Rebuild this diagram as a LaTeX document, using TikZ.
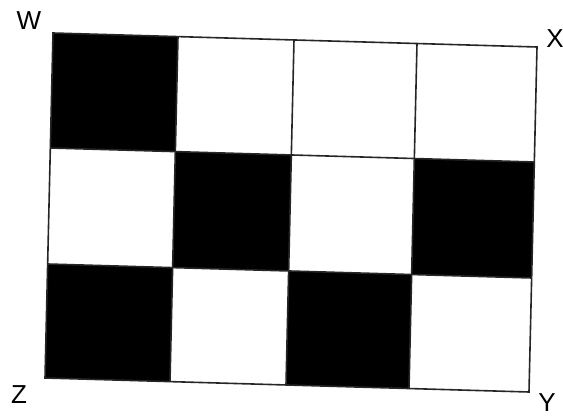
\documentclass[tikz,border=0pt]{standalone}
\usepackage{fontspec}
\setmainfont{Liberation Sans}
\begin{document}
\begin{tikzpicture}[x=1pt,y=-1pt,
  lbl/.style={font=\fontsize{26}{26}\selectfont, inner sep=0pt},
  cellfill/.style={fill=black},
  gridline/.style={draw=black!85, line width=1.6pt, line join=miter}]
\useasboundingbox (0,0) rectangle (563,419);
% grid point: column offset #1, row offset #2 (parallelogram)
\def\P#1#2{({53+#1-#2*8/345},{33+#1*14/484+#2})}
% black cells
\fill[cellfill] \P{0}{0} -- \P{125}{0} -- \P{125}{115} -- \P{0}{115} -- cycle;
\fill[cellfill] \P{125}{115} -- \P{241}{115} -- \P{241}{231} -- \P{125}{231} -- cycle;
\fill[cellfill] \P{364}{115} -- \P{484}{115} -- \P{484}{231} -- \P{364}{231} -- cycle;
\fill[cellfill] \P{0}{231} -- \P{125}{231} -- \P{125}{345} -- \P{0}{345} -- cycle;
\fill[cellfill] \P{241}{231} -- \P{364}{231} -- \P{364}{345} -- \P{241}{345} -- cycle;
% grid lines
\draw[gridline] \P{0}{0} -- \P{484}{0} -- \P{484}{345} -- \P{0}{345} -- cycle;
\draw[gridline] \P{0}{115} -- \P{484}{115};
\draw[gridline] \P{0}{231} -- \P{484}{231};
\draw[gridline] \P{125}{0} -- \P{125}{345};
\draw[gridline] \P{241}{0} -- \P{241}{345};
\draw[gridline] \P{364}{0} -- \P{364}{345};
% corner labels
\node[lbl] (W) at (29,21) {W};
\node[lbl] (X) at (555,39) {X};
\node[lbl] (Z) at (19,395) {Z};
\node[lbl] (Y) at (547,403) {Y};
\end{tikzpicture}
\end{document}
